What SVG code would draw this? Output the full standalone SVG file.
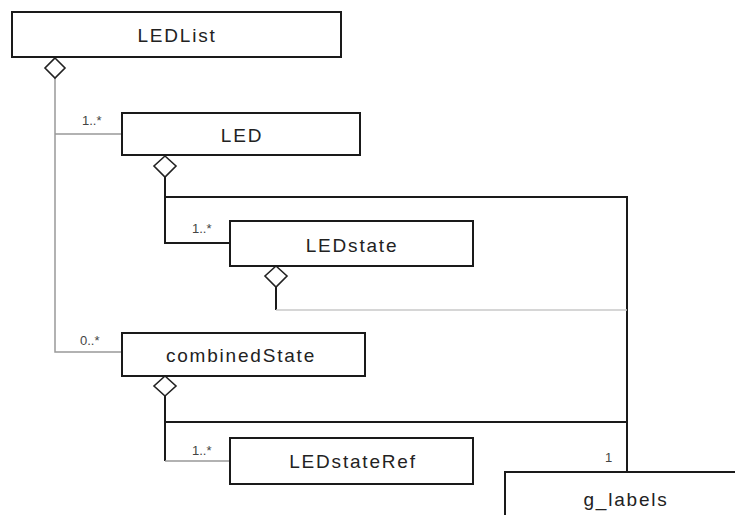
<svg xmlns="http://www.w3.org/2000/svg" width="735" height="515" viewBox="0 0 735 515">
<style>
.box{fill:#fff;stroke:#1a1a1a;stroke-width:2}
.name{font-family:"Liberation Sans",Arial,sans-serif;font-size:19px;letter-spacing:1.8px;fill:#222;text-anchor:middle}
.mult{font-family:"Liberation Sans",Arial,sans-serif;font-size:13px;fill:#444}
.dia{fill:#fff;stroke:#222;stroke-width:1.6}
.blk{fill:none;stroke:#1a1a1a;stroke-width:2}
.gry{fill:none;stroke:#999;stroke-width:1.5}
.lgt{fill:none;stroke:#c8c8c8;stroke-width:1.5}
</style>
<rect width="735" height="515" fill="#fff"/>
<g id="connectors">
<polyline class="gry" points="55,78 55,352 122,352"/>
<line class="gry" x1="55" y1="134" x2="122" y2="134"/>
<polyline class="blk" points="165,177 165,243 230,243"/>
<polyline class="blk" points="165,197 627,197 627,472"/>
<polyline class="blk" points="276,287 276,310"/>
<line class="lgt" x1="276" y1="310" x2="627" y2="310"/>
<polyline class="blk" points="165,396 165,461"/>
<line class="gry" x1="165" y1="461" x2="230" y2="461"/>
<line class="blk" x1="165" y1="422" x2="627" y2="422"/>
<polygon class="dia" points="55,58 65,68 55,78 45,68"/>
<polygon class="dia" points="165,156 176,166 165,177 154,166"/>
<polygon class="dia" points="276,266 287,276 276,287 265,276"/>
<polygon class="dia" points="165,376 176,386 165,396 154,386"/>
<text class="mult" x="82" y="125" fill="#999">1..*</text>
<text class="mult" x="192" y="233">1..*</text>
<text class="mult" x="80" y="345" fill="#888">0..*</text>
<text class="mult" x="192" y="455">1..*</text>
<text class="mult" x="605" y="462">1</text>
</g>
<g id="LEDList"><rect class="box" x="12" y="12" width="329" height="45"/><text class="name" x="177" y="42">LEDList</text></g>
<g id="LED"><rect class="box" x="122" y="113" width="238" height="42"/><text class="name" x="242" y="142">LED</text></g>
<g id="LEDstate"><rect class="box" x="230" y="221" width="243" height="45"/><text class="name" x="352" y="252">LEDstate</text></g>
<g id="combinedState"><rect class="box" x="122" y="333" width="243" height="43"/><text class="name" x="241" y="362">combinedState</text></g>
<g id="LEDstateRef"><rect class="box" x="230" y="438" width="243" height="46"/><text class="name" x="353" y="468">LEDstateRef</text></g>
<g id="g_labels"><rect class="box" x="505" y="472" width="242" height="60"/><text class="name" x="626" y="506">g_labels</text></g>
</svg>
